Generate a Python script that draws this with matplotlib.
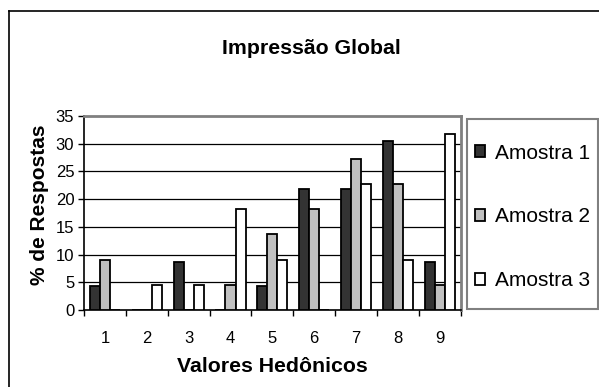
import numpy as np
import matplotlib.pyplot as plt
from matplotlib.lines import Line2D
from matplotlib.patches import Rectangle

plt.rcParams['font.family'] = ['Liberation Sans', 'DejaVu Sans']

categories = ["1", "2", "3", "4", "5", "6", "7", "8", "9"]
amostra1 = [4.35, 0, 8.70, 0, 4.35, 21.74, 21.74, 30.43, 8.70]
amostra2 = [9.09, 0, 0, 4.55, 13.64, 18.18, 27.27, 22.73, 4.55]
amostra3 = [0, 4.55, 4.55, 18.18, 9.09, 0, 22.73, 9.09, 31.82]
series = ["Amostra 1", "Amostra 2", "Amostra 3"]
colors = ["#333333", "#c0c0c0", "#ffffff"]

W, H = 599, 387
fig = plt.figure(figsize=(W / 100, H / 100), dpi=100)
ax = fig.add_axes([84 / W, 1 - 310 / H, (460.7 - 84) / W, (310 - 116) / H])

x = np.arange(1, len(categories) + 1)
w = 0.24
for i, (vals, name, c) in enumerate(zip([amostra1, amostra2, amostra3], series, colors)):
    ax.bar(x + (i - 1) * w, vals, w, color=c, edgecolor="black", linewidth=1.3,
           label=name, zorder=3)

ax.set_xlim(0.5, 9.5)
ax.set_ylim(0, 35)
ax.set_yticks(np.arange(0, 36, 5))
ax.set_xticks(x)
ax.set_xticklabels(categories)
ax.set_xticks(np.arange(0.5, 9.6, 1), minor=True)
ax.tick_params(axis="x", which="major", length=0, pad=15, labelsize=12)
ax.tick_params(axis="x", which="minor", length=4, width=1, direction="out")
ax.tick_params(axis="y", length=4, width=1, pad=3, labelsize=12)

for v in range(5, 35, 5):
    ax.axhline(v, color="black", linewidth=0.9, zorder=1)

ax.spines["top"].set_color("#808080")
ax.spines["right"].set_color("#808080")
ax.spines["top"].set_linewidth(2)
ax.spines["right"].set_linewidth(2)
ax.spines["left"].set_linewidth(1.2)
ax.spines["bottom"].set_linewidth(1.2)

fig.text(311 / W, 1 - 48 / H, "Impressão Global", ha="center", va="center",
         fontsize=15.3, fontweight="bold")
fig.text(272 / W, 1 - 366 / H, "Valores Hedônicos", ha="center", va="center",
         fontsize=15.3, fontweight="bold")
fig.text(40 / W, 1 - 205 / H, "% de Respostas", ha="center", va="center",
         rotation=90, fontsize=15, fontweight="bold")

# legend frame drawn separately so its size matches the reference
fig.add_artist(Rectangle((467 / W, 1 - 309 / H), (598 - 467) / W, (309 - 119) / H,
                         transform=fig.transFigure, facecolor="white",
                         edgecolor="#808080", linewidth=1.5, zorder=1))
leg = fig.legend(loc="center left", bbox_to_anchor=(475 / W, 1 - 217 / H),
                 bbox_transform=fig.transFigure, borderaxespad=0, borderpad=0,
                 fontsize=15, handlelength=0.5, handleheight=0.5,
                 handletextpad=0.45, labelspacing=2.15, frameon=False)
leg.set_zorder(2)

# outer chart border (only left and top are inside the image)
fig.add_artist(Line2D([9 / W, 9 / W], [0, 1 - 11 / H], color="black", linewidth=1.2))
fig.add_artist(Line2D([9 / W, 1], [1 - 11 / H, 1 - 11 / H], color="black", linewidth=1.2))

fig.savefig("out.png", dpi=100)
